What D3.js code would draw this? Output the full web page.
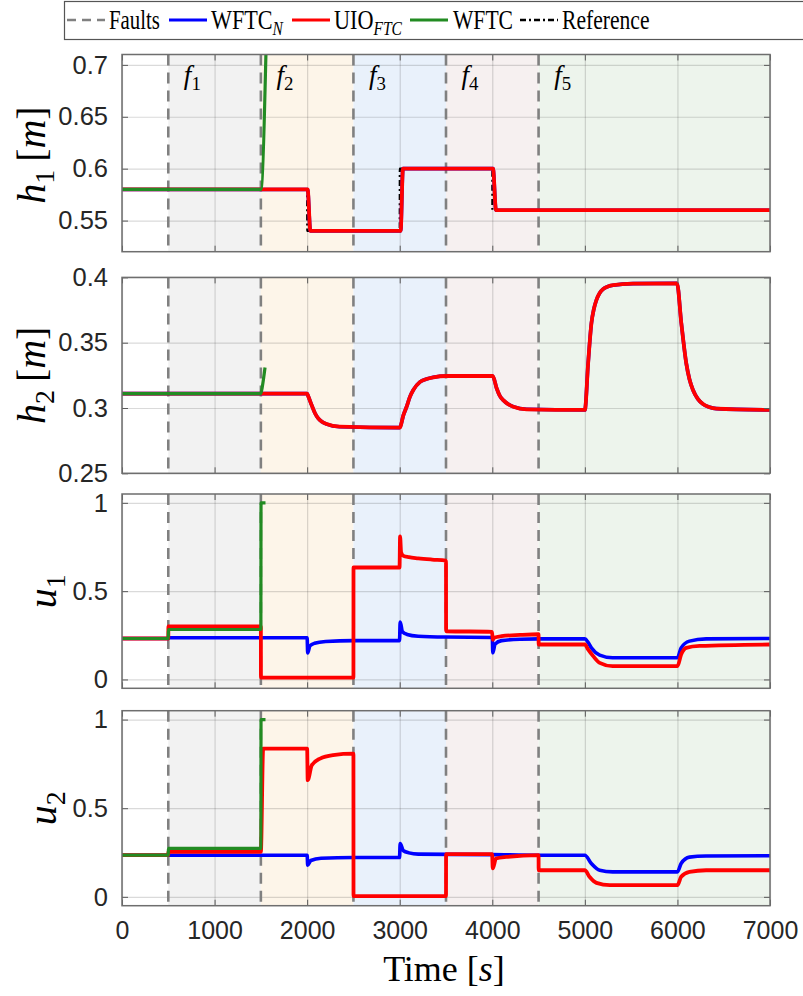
<!DOCTYPE html>
<html>
<head>
<meta charset="utf-8">
<script src="https://cdn.jsdelivr.net/npm/d3@7"></script>
<style>
  body { margin: 0; background: #fff; }
  svg { display: block; }
</style>
</head>
<body>
<div id="chart"></div>
<script>
// ---- data ----
var xTicks = [0, 1000, 2000, 3000, 4000, 5000, 6000, 7000];
var faultStarts = [500, 1500, 2500, 3500, 4500];
var faultEnds = [1500, 2500, 3500, 4500, 7000];
var faultNames = ["1", "2", "3", "4", "5"];

var h1Ticks = [0.55, 0.6, 0.65, 0.7];
var h2Ticks = [0.25, 0.3, 0.35, 0.4];
var uTicks = [0, 0.5, 1];

// h1
var h1Ref = [[0, 0.58], [2000, 0.58], [2001, 0.54], [3000, 0.54], [3001, 0.60], [4000, 0.60], [4001, 0.56], [7000, 0.56]];
var h1Wftcn = [[0, 0.58], [2005, 0.58], [2035, 0.54], [3010, 0.54], [3035, 0.60], [4008, 0.60], [4040, 0.56], [7000, 0.56]];
var h1Uio = [[0, 0.58], [2005, 0.58], [2035, 0.54], [3010, 0.54], [3035, 0.60], [4008, 0.60], [4040, 0.56], [7000, 0.56]];
var h1Wftc = [[0, 0.58], [1500, 0.58], [1560, 0.73]];

// h2
var h2Wftcn = [[0, 0.311], [2000, 0.311], [2012, 0.309], [2050, 0.302], [2085, 0.296], [2120, 0.292], [2160, 0.2895], [2210, 0.2877], [2350, 0.2857], [3000, 0.285],
  [3040, 0.2946], [3075, 0.301], [3110, 0.3085], [3147, 0.3138], [3220, 0.320], [3290, 0.3222], [3363, 0.3235], [3507, 0.3245], [4004, 0.3245],
  [4047, 0.3151], [4080, 0.3095], [4119, 0.306], [4170, 0.303], [4227, 0.301], [4371, 0.299], [5000, 0.2985],
  [5035, 0.334], [5071, 0.365], [5098, 0.376], [5125, 0.3827], [5160, 0.388], [5197, 0.391], [5250, 0.393], [5305, 0.394], [5520, 0.3952], [5995, 0.3955],
  [6042, 0.365], [6096, 0.334], [6130, 0.322], [6168, 0.3138], [6220, 0.307], [6276, 0.303], [6340, 0.3008], [6420, 0.2995], [7000, 0.2985]];
var h2Uio = [[0, 0.311], [2000, 0.311], [2012, 0.309], [2050, 0.302], [2085, 0.296], [2120, 0.292], [2160, 0.2895], [2210, 0.2877], [2350, 0.2857], [3000, 0.285],
  [3040, 0.2946], [3075, 0.301], [3110, 0.3085], [3147, 0.3138], [3220, 0.320], [3290, 0.3222], [3363, 0.3235], [3507, 0.3245], [4004, 0.3245],
  [4047, 0.3151], [4080, 0.3095], [4119, 0.306], [4170, 0.303], [4227, 0.301], [4371, 0.299], [5000, 0.2985],
  [5035, 0.334], [5071, 0.365], [5098, 0.376], [5125, 0.3827], [5160, 0.388], [5197, 0.391], [5250, 0.393], [5305, 0.394], [5520, 0.3952], [5995, 0.3955],
  [6042, 0.365], [6096, 0.334], [6130, 0.322], [6168, 0.3138], [6220, 0.307], [6276, 0.303], [6340, 0.3008], [6420, 0.2995], [7000, 0.2985]];
var h2Wftc = [[0, 0.311], [1500, 0.311], [1515, 0.316], [1545, 0.331]];

// u1
var u1Wftcn = [[0, 0.232], [500, 0.232], [501, 0.236], [2000, 0.236], [2006, 0.15], [2030, 0.19], [2080, 0.205], [2200, 0.215], [2500, 0.22],
  [2998, 0.22], [3005, 0.325], [3030, 0.27], [3080, 0.255], [3200, 0.245], [3500, 0.24], [4000, 0.238], [4006, 0.151],
  [4030, 0.2], [4100, 0.22], [4300, 0.228], [4500, 0.23], [5000, 0.23], [5035, 0.21], [5070, 0.179], [5160, 0.138],
  [5300, 0.123], [6000, 0.123], [6040, 0.179], [6130, 0.217], [6310, 0.23], [7000, 0.232]];
var u1Uio = [[0, 0.232], [500, 0.232], [501, 0.30], [1500, 0.30], [1501, 0.01], [2500, 0.01], [2501, 0.634], [2998, 0.634],
  [3004, 0.81], [3015, 0.72], [3040, 0.70], [3100, 0.692], [3200, 0.686], [3350, 0.679], [3500, 0.673], [3501, 0.273],
  [3998, 0.27], [4004, 0.225], [4020, 0.236], [4100, 0.245], [4300, 0.252], [4500, 0.256], [4501, 0.198], [5000, 0.198],
  [5035, 0.17], [5090, 0.132], [5160, 0.094], [5300, 0.075], [6000, 0.075], [6040, 0.141], [6095, 0.179], [6240, 0.19], [7000, 0.198]];
var u1Wftc = [[0, 0.232], [500, 0.232], [501, 0.283], [1500, 0.283], [1502, 1.0], [1550, 1.0]];

// u2
var u2Wftcn = [[0, 0.235], [2000, 0.235], [2006, 0.179], [2040, 0.205], [2150, 0.218], [2500, 0.222], [2998, 0.222], [3005, 0.30],
  [3040, 0.26], [3100, 0.248], [3200, 0.241], [4000, 0.238], [4500, 0.235], [5000, 0.235], [5070, 0.188], [5160, 0.15],
  [5300, 0.141], [6000, 0.141], [6040, 0.188], [6130, 0.224], [6310, 0.23], [7000, 0.232]];
var u2Uio = [[0, 0.235], [500, 0.235], [501, 0.254], [1500, 0.254], [1525, 0.836], [2000, 0.836], [2006, 0.658], [2050, 0.742],
  [2140, 0.78], [2280, 0.80], [2500, 0.808], [2501, 0.004], [3500, 0.004], [3501, 0.241], [3998, 0.241], [4005, 0.16],
  [4040, 0.216], [4150, 0.225], [4500, 0.235], [4501, 0.15], [5000, 0.15], [5050, 0.113], [5125, 0.079], [5270, 0.066],
  [6000, 0.066], [6040, 0.113], [6130, 0.141], [6310, 0.15], [7000, 0.15]];
var u2Wftc = [[0, 0.235], [500, 0.235], [501, 0.273], [1500, 0.273], [1502, 1.0], [1550, 1.0]];

// ---- layout ----
var svgWidth = 803, svgHeight = 996;
var plotLeft = 122, plotRight = 770;
var shadeColors = ["#f2f2f2", "#fdf5e9", "#e9f1fb", "#f6f0f0", "#edf4ec"];
var colors = { faults: "#808080", wftcn: "#0000ff", uio: "#ff0000", wftc: "#228b22", ref: "#000000" };
var serif = "'Liberation Serif', 'Times New Roman', serif";
var sans = "'Liberation Sans', Arial, sans-serif";

var panels = [
  { top: 54.5, bottom: 251.7, domain: [0.52, 0.71], ticks: h1Ticks, labelX: 45, labelDy: 2,
    label: [{ t: "h", i: true }, { t: "1", sub: true }, { t: "\u2009[" }, { t: "m", i: true }, { t: "]" }],
    ref: h1Ref, wftcn: h1Wftcn, uio: h1Uio, wftc: h1Wftc, faultLabels: true },
  { top: 277.4, bottom: 473.3, domain: [0.25, 0.40], ticks: h2Ticks, labelX: 45, labelDy: 0,
    label: [{ t: "h", i: true }, { t: "2", sub: true }, { t: "\u2009[" }, { t: "m", i: true }, { t: "]" }],
    wftcn: h2Wftcn, uio: h2Uio, wftc: h2Wftc },
  { top: 494, bottom: 688.3, domain: [-0.05, 1.05], ticks: uTicks, labelX: 56, labelDy: 0,
    label: [{ t: "u", i: true }, { t: "1", sub: true }],
    wftcn: u1Wftcn, uio: u1Uio, wftc: u1Wftc },
  { top: 710.7, bottom: 905.7, domain: [-0.05, 1.05], ticks: uTicks, labelX: 56, labelDy: 0,
    label: [{ t: "u", i: true }, { t: "2", sub: true }],
    wftcn: u2Wftcn, uio: u2Uio, wftc: u2Wftc, xLabels: true }
];

var svg = d3.select("#chart")
  .append("svg")
  .attr("width", svgWidth)
  .attr("height", svgHeight);

var xScale = d3.scaleLinear().domain([0, 7000]).range([plotLeft, plotRight]);

// writes text with italic parts and subscripts
function richText(textSel, parts, size) {
  var shifted = false;
  parts.forEach(function(p) {
    var ts = textSel.append("tspan").text(p.t);
    if (p.i) ts.attr("font-style", "italic");
    if (p.sub) {
      ts.attr("font-size", size * 0.7).attr("dy", shifted ? 0 : size * 0.22);
      shifted = true;
    } else {
      if (shifted) ts.attr("dy", -size * 0.22);
      shifted = false;
    }
  });
  return textSel;
}

panels.forEach(function(p, idx) {
  var yScale = d3.scaleLinear().domain(p.domain).range([p.bottom, p.top]);
  var g = svg.append("g");
  var h = p.bottom - p.top;

  var clipId = "clip" + idx;
  svg.append("clipPath").attr("id", clipId)
    .append("rect")
    .attr("x", plotLeft).attr("y", p.top)
    .attr("width", plotRight - plotLeft).attr("height", h);

  // fault shading
  g.selectAll("rect.shade")
    .data(faultStarts)
    .enter()
    .append("rect")
    .attr("class", "shade")
    .attr("x", d => xScale(d))
    .attr("y", p.top)
    .attr("width", (d, i) => xScale(faultEnds[i]) - xScale(d))
    .attr("height", h)
    .attr("fill", (d, i) => shadeColors[i]);

  // grid
  g.append("g")
    .attr("transform", `translate(0, ${p.bottom})`)
    .call(d3.axisBottom(xScale).tickValues(xTicks).tickSize(-h).tickFormat(""))
    .call(s => s.select(".domain").remove())
    .selectAll("line").attr("stroke", "#262626").attr("stroke-opacity", 0.17).attr("stroke-width", 1.2);
  g.append("g")
    .attr("transform", `translate(${plotLeft}, 0)`)
    .call(d3.axisLeft(yScale).tickValues(p.ticks).tickSize(-(plotRight - plotLeft)).tickFormat(""))
    .call(s => s.select(".domain").remove())
    .selectAll("line").attr("stroke", "#262626").attr("stroke-opacity", 0.17).attr("stroke-width", 1.2);

  var plot = g.append("g").attr("clip-path", `url(#${clipId})`);

  // fault lines
  plot.selectAll("line.fault")
    .data(faultStarts)
    .enter()
    .append("line")
    .attr("class", "fault")
    .attr("x1", d => xScale(d)).attr("x2", d => xScale(d))
    .attr("y1", p.top).attr("y2", p.bottom)
    .attr("stroke", colors.faults)
    .attr("stroke-width", 2.6)
    .attr("stroke-dasharray", "11,7");

  var line = d3.line().curve(d3.curveMonotoneX).x(d => xScale(d[0])).y(d => yScale(d[1]));

  if (p.ref) {
    plot.append("path").datum(p.ref).attr("d", line)
      .attr("fill", "none").attr("stroke", colors.ref).attr("stroke-width", 2.2)
      .attr("stroke-dasharray", "6,3,2,3");
  }
  plot.append("path").datum(p.wftcn).attr("d", line)
    .attr("fill", "none").attr("stroke", colors.wftcn).attr("stroke-width", 3.6).attr("stroke-linejoin", "round");
  plot.append("path").datum(p.uio).attr("d", line)
    .attr("fill", "none").attr("stroke", colors.uio).attr("stroke-width", 3.8).attr("stroke-linejoin", "round");
  plot.append("path").datum(p.wftc).attr("d", line)
    .attr("fill", "none").attr("stroke", colors.wftc).attr("stroke-width", 3.2).attr("stroke-linejoin", "round");

  // fault labels
  if (p.faultLabels) {
    faultStarts.forEach(function(s, i) {
      var t = g.append("text")
        .attr("x", xScale(s + 260))
        .attr("y", 84)
        .attr("text-anchor", "middle")
        .attr("font-family", serif)
        .attr("font-size", 27)
        .attr("fill", "#000");
      richText(t, [{ t: "f", i: true }, { t: faultNames[i], sub: true }], 27);
    });
  }

  // tick labels and inward ticks
  var left = g.append("g")
    .attr("transform", `translate(${plotLeft}, 0)`)
    .call(d3.axisLeft(yScale).tickValues(p.ticks).tickSizeInner(-6).tickSizeOuter(0)
      .tickPadding(14).tickFormat(d3.format("~g")));
  left.select(".domain").remove();
  left.selectAll("line").attr("stroke", "#5a5a5a");
  left.selectAll("text").attr("font-family", sans).attr("font-size", 25.5).attr("fill", "#262626");

  var right = g.append("g")
    .attr("transform", `translate(${plotRight}, 0)`)
    .call(d3.axisRight(yScale).tickValues(p.ticks).tickSizeInner(-6).tickSizeOuter(0).tickFormat(""));
  right.select(".domain").remove();
  right.selectAll("line").attr("stroke", "#5a5a5a");

  var bottom = g.append("g")
    .attr("transform", `translate(0, ${p.bottom})`)
    .call(d3.axisBottom(xScale).tickValues(xTicks).tickSizeInner(-6).tickSizeOuter(0)
      .tickPadding(16).tickFormat(p.xLabels ? d3.format("d") : ""));
  bottom.select(".domain").remove();
  bottom.selectAll("line").attr("stroke", "#5a5a5a");
  bottom.selectAll("text").attr("font-family", sans).attr("font-size", 25).attr("fill", "#262626");

  var topAx = g.append("g")
    .attr("transform", `translate(0, ${p.top})`)
    .call(d3.axisTop(xScale).tickValues(xTicks).tickSizeInner(-6).tickSizeOuter(0).tickFormat(""));
  topAx.select(".domain").remove();
  topAx.selectAll("line").attr("stroke", "#5a5a5a");

  // box
  g.append("rect")
    .attr("x", plotLeft).attr("y", p.top)
    .attr("width", plotRight - plotLeft).attr("height", h)
    .attr("fill", "none").attr("stroke", "#6e6e6e").attr("stroke-width", 1.5);

  // y label
  var yl = g.append("text")
    .attr("transform", `translate(${p.labelX}, ${(p.top + p.bottom) / 2 + p.labelDy}) rotate(-90)`)
    .attr("text-anchor", "middle")
    .attr("font-family", serif)
    .attr("font-size", 40)
    .attr("fill", "#000");
  richText(yl, p.label, 40);
});

// x label
var xl = svg.append("text")
  .attr("x", (plotLeft + plotRight) / 2 - 2)
  .attr("y", 981)
  .attr("text-anchor", "middle")
  .attr("font-family", serif)
  .attr("font-size", 36)
  .attr("fill", "#000");
richText(xl, [{ t: "Time [" }, { t: "s", i: true }, { t: "]" }], 36);

// legend
var legend = svg.append("g");
legend.append("rect")
  .attr("x", 64.5).attr("y", 1.5)
  .attr("width", 760).attr("height", 38)
  .attr("fill", "#fff").attr("stroke", "#555").attr("stroke-width", 1.2);

var legendSize = 27;
var legendItems = [
  { key: "faults", dash: "9,6", width: 2.6, lineX: 67, textX: 109, textW: 51, parts: [{ t: "Faults" }] },
  { key: "wftcn", dash: null, width: 3, lineX: 169, textX: 211, textW: 72, parts: [{ t: "WFTC" }, { t: "N", i: true, sub: true }] },
  { key: "uio", dash: null, width: 3, lineX: 292, textX: 334, textW: 68, parts: [{ t: "UIO" }, { t: "FTC", i: true, sub: true }] },
  { key: "wftc", dash: null, width: 3, lineX: 410, textX: 453, textW: 60, parts: [{ t: "WFTC" }] },
  { key: "ref", dash: "6,3,2,3", width: 2.6, lineX: 520, textX: 562, textW: null, parts: [{ t: "Reference" }] }
];
var legendScale = 1;
legendItems.forEach(function(item) {
  var ln = legend.append("line")
    .attr("x1", item.lineX).attr("x2", item.lineX + 38)
    .attr("y1", 20).attr("y2", 20)
    .attr("stroke", colors[item.key]).attr("stroke-width", item.width);
  if (item.dash) ln.attr("stroke-dasharray", item.dash);
  var t = legend.append("text")
    .attr("x", 0).attr("y", 0)
    .attr("font-family", serif).attr("font-size", legendSize).attr("fill", "#000");
  richText(t, item.parts, legendSize);
  var natural = t.node().getComputedTextLength();
  if (item.textW) legendScale = item.textW / natural;
  t.attr("transform", `translate(${item.textX}, 29) scale(${legendScale}, 1)`);
});
</script>
</body>
</html>
